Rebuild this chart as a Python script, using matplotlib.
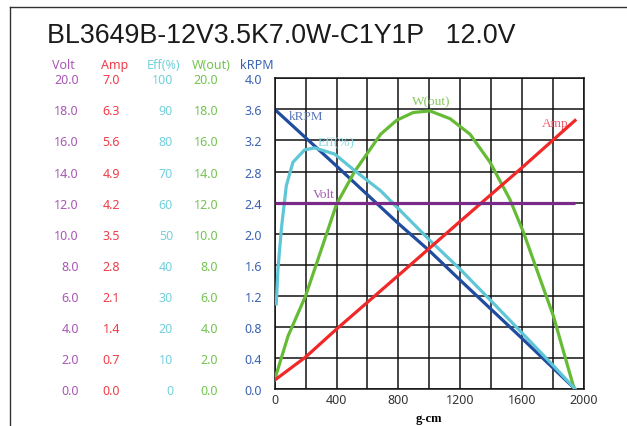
import matplotlib
matplotlib.use('Agg')
import matplotlib.pyplot as plt
from matplotlib.lines import Line2D

# ---- data ----
torque_krpm = [0, 400, 800, 1000, 1200, 1600, 1942]
krpm = [3.60, 2.87, 2.13, 1.78, 1.40, 0.65, 0.0]

torque_amp = [0, 200, 400, 800, 1000, 1200, 1600, 1942]
amp = [0.20, 0.72, 1.35, 2.56, 3.17, 3.78, 4.99, 6.05]

torque_volt = [0, 1942]
volt = [12.0, 12.0]

torque_w = [0, 86, 200, 302, 400, 517, 685, 789, 896, 1004, 1134, 1263,
            1392, 1521, 1608, 1694, 1802, 1931, 1942]
w_out = [0.6, 3.4, 6.0, 9.0, 11.9, 14.0, 16.4, 17.3, 17.8, 17.9, 17.4, 16.4,
         14.6, 12.2, 10.1, 7.7, 4.7, 0.2, 0.0]

torque_eff = [10, 21, 43, 75, 118, 194, 259, 388, 517, 685, 1004, 1198,
              1328, 1414, 1600, 1802, 1942]
eff = [27.4, 38.6, 51.5, 65.4, 73.0, 77.0, 77.6, 75.6, 70.3, 63.8, 47.8, 38.6,
       32.0, 27.6, 18.0, 7.5, 0.0]

volt_ticks = [0, 2, 4, 6, 8, 10, 12, 14, 16, 18, 20]
amp_ticks = [0, 0.7, 1.4, 2.1, 2.8, 3.5, 4.2, 4.9, 5.6, 6.3, 7.0]
eff_ticks = [0, 10, 20, 30, 40, 50, 60, 70, 80, 90, 100]
w_ticks = [0, 2, 4, 6, 8, 10, 12, 14, 16, 18, 20]
krpm_ticks = [0, 0.4, 0.8, 1.2, 1.6, 2.0, 2.4, 2.8, 3.2, 3.6, 4.0]
x_ticks = [0, 400, 800, 1200, 1600, 2000]

title = 'BL3649B-12V3.5K7.0W-C1Y1P   12.0V'

# ---- colours ----
c_volt, c_amp, c_eff, c_w, c_krpm = '#a858b4', '#f03c48', '#74d0dc', '#74c450', '#3a62b4'
l_volt, l_amp, l_eff, l_w, l_krpm = '#7a2a88', '#f02828', '#5ec6d6', '#66bb36', '#1f4c9e'

W, H = 627, 427
fig = plt.figure(figsize=(W / 100, H / 100), dpi=100)
plt.rcParams['font.family'] = ['Noto Sans', 'DejaVu Sans']

# outer frame (top and left only visible)
fig.add_artist(Line2D([10 / W, 10 / W], [0, 1 - 8 / H], transform=fig.transFigure,
                      color='#333333', lw=1))
fig.add_artist(Line2D([10 / W, 1], [1 - 8 / H, 1 - 8 / H], transform=fig.transFigure,
                      color='#333333', lw=1))

fig.text(47 / W, 1 - 36 / H, title, fontsize=19.3, family='Liberation Sans',
         va='center', ha='left', color='#1a1a1a')

ax = fig.add_axes([274.7 / W, (H - 390) / H, 309.3 / W, 310.7 / H])
ax.set_xlim(0, 2000)
ax.set_ylim(0, 4.0)
ax.set_xticks(x_ticks)
ax.set_xticks(range(0, 2001, 200), minor=True)
ax.set_yticks(krpm_ticks)
ax.set_yticklabels([f'{v:.1f}' for v in krpm_ticks])
ax.grid(True, which='both', color='#111111', lw=1.1)
ax.set_axisbelow(True)
for s in ax.spines.values():
    s.set_color('#111111')
    s.set_linewidth(1.1)
ax.tick_params(axis='x', which='both', length=0, pad=3, labelsize=9, labelcolor='#333333')
ax.tick_params(axis='y', length=0, pad=9, labelsize=9, labelcolor=c_krpm)
ax.set_xlabel('g-cm', family='Liberation Serif', fontweight='bold', fontsize=9,
              labelpad=4)


def side_axis(ymax, ticks, labels, color, pad):
    t = ax.twinx()
    t.set_ylim(0, ymax)
    t.yaxis.tick_left()
    t.set_yticks(ticks)
    t.set_yticklabels(labels)
    t.tick_params(axis='y', length=0, pad=pad, labelsize=9, labelcolor=color)
    for s in t.spines.values():
        s.set_visible(False)
    return t


ax_w = side_axis(20, w_ticks, [f'{v:.1f}' for v in w_ticks], c_w, 40.8)
ax_eff = side_axis(100, eff_ticks, [str(v) for v in eff_ticks], c_eff, 73.2)
ax_amp = side_axis(7.0, amp_ticks, [f'{v:.1f}' for v in amp_ticks], c_amp, 111.4)
ax_volt = side_axis(20, volt_ticks, [f'{v:.1f}' for v in volt_ticks], c_volt, 140.9)

lw = 2.3
ax_volt.plot(torque_volt, volt, color=l_volt, lw=lw, solid_capstyle='butt')
ax_w.plot(torque_w, w_out, color=l_w, lw=lw)
ax_eff.plot(torque_eff, eff, color=l_eff, lw=lw)
ax_amp.plot(torque_amp, amp, color=l_amp, lw=lw)
ax.plot(torque_krpm, krpm, color=l_krpm, lw=lw)

# curve labels
serif = dict(family='Liberation Serif', fontsize=9.5, ha='center', va='center')
ax.text(203, 3.51, 'kRPM', color='#5a78b8', **serif)
ax.text(396, 3.17, 'Eff(%)', color='#8ad6e2', **serif)
ax.text(1009, 3.71, 'W(out)', color='#84c85c', **serif)
ax.text(1812, 3.43, 'Amp', color='#f26070', **serif)
ax.text(319, 2.51, 'Volt', color='#a25cb0', **serif)

# column headers
for label, xc, col in [('Volt', 63.5, c_volt), ('Amp', 115, c_amp),
                       ('Eff(%)', 164, c_eff), ('W(out)', 211, c_w),
                       ('kRPM', 257, c_krpm)]:
    fig.text(xc / W, 1 - 66 / H, label, color=col, fontsize=9,
             ha='center', va='center')

fig.savefig('out.png', dpi=100)
